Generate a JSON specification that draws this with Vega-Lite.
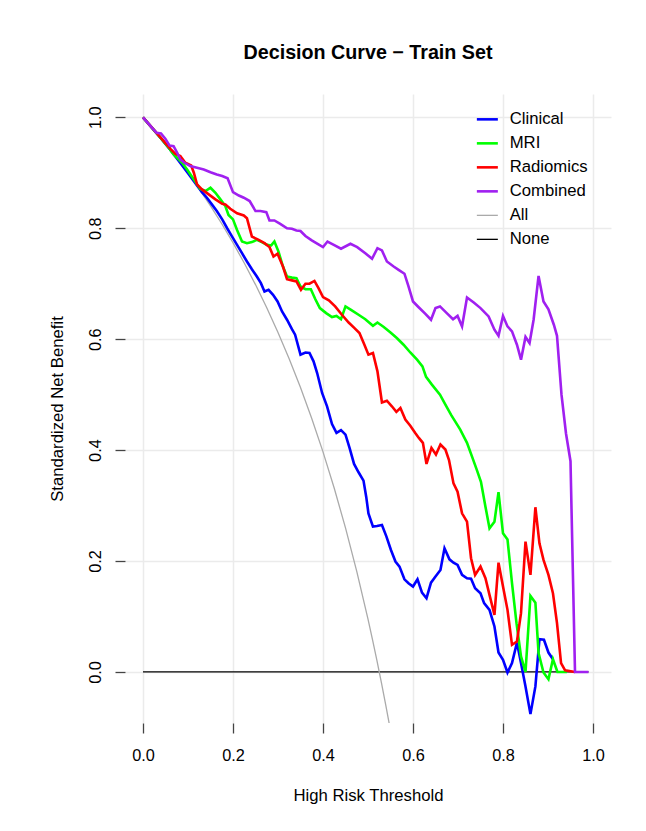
{
  "$schema": "https://vega.github.io/schema/vega-lite/v6.json",
  "autosize": "none",
  "width": 486,
  "height": 629,
  "padding": {"left": 125, "top": 94, "right": 35, "bottom": 108},
  "background": "white",
  "config": {"view": {"stroke": null}, "font": "Liberation Sans"},
  "title": {"text": "Decision Curve − Train Set", "fontSize": 19.7, "fontWeight": "bold", "font": "Liberation Sans", "color": "#000000", "anchor": "middle", "frame": "group", "baseline": "middle", "offset": 21},
  "datasets": {
    "curves": [
      {"model": "None", "threshold": 0, "net_benefit": 0},
      {"model": "None", "threshold": 0.99, "net_benefit": 0},
      {"model": "All", "threshold": 0, "net_benefit": 1},
      {"model": "All", "threshold": 0.025, "net_benefit": 0.9768},
      {"model": "All", "threshold": 0.05, "net_benefit": 0.9524},
      {"model": "All", "threshold": 0.075, "net_benefit": 0.9266},
      {"model": "All", "threshold": 0.1, "net_benefit": 0.8995},
      {"model": "All", "threshold": 0.125, "net_benefit": 0.8707},
      {"model": "All", "threshold": 0.15, "net_benefit": 0.8403},
      {"model": "All", "threshold": 0.175, "net_benefit": 0.8081},
      {"model": "All", "threshold": 0.2, "net_benefit": 0.7738},
      {"model": "All", "threshold": 0.225, "net_benefit": 0.7373},
      {"model": "All", "threshold": 0.25, "net_benefit": 0.6984},
      {"model": "All", "threshold": 0.275, "net_benefit": 0.6568},
      {"model": "All", "threshold": 0.3, "net_benefit": 0.6122},
      {"model": "All", "threshold": 0.325, "net_benefit": 0.5644},
      {"model": "All", "threshold": 0.35, "net_benefit": 0.5128},
      {"model": "All", "threshold": 0.375, "net_benefit": 0.4571},
      {"model": "All", "threshold": 0.4, "net_benefit": 0.3968},
      {"model": "All", "threshold": 0.425, "net_benefit": 0.3312},
      {"model": "All", "threshold": 0.45, "net_benefit": 0.2597},
      {"model": "All", "threshold": 0.475, "net_benefit": 0.1814},
      {"model": "All", "threshold": 0.5, "net_benefit": 0.0952},
      {"model": "All", "threshold": 0.51, "net_benefit": 0.0583},
      {"model": "All", "threshold": 0.52, "net_benefit": 0.0198},
      {"model": "All", "threshold": 0.53, "net_benefit": -0.0203},
      {"model": "All", "threshold": 0.54, "net_benefit": -0.0622},
      {"model": "All", "threshold": 0.547, "net_benefit": -0.0925},

      {"model": "Clinical", "threshold": 0, "net_benefit": 1},
      {"model": "Clinical", "threshold": 0.02, "net_benefit": 0.981},
      {"model": "Clinical", "threshold": 0.04, "net_benefit": 0.962},
      {"model": "Clinical", "threshold": 0.06, "net_benefit": 0.942},
      {"model": "Clinical", "threshold": 0.08, "net_benefit": 0.921},
      {"model": "Clinical", "threshold": 0.1, "net_benefit": 0.899},
      {"model": "Clinical", "threshold": 0.12, "net_benefit": 0.877},
      {"model": "Clinical", "threshold": 0.131, "net_benefit": 0.865},
      {"model": "Clinical", "threshold": 0.142, "net_benefit": 0.855},
      {"model": "Clinical", "threshold": 0.153, "net_benefit": 0.843},
      {"model": "Clinical", "threshold": 0.164, "net_benefit": 0.831},
      {"model": "Clinical", "threshold": 0.176, "net_benefit": 0.816},
      {"model": "Clinical", "threshold": 0.187, "net_benefit": 0.8},
      {"model": "Clinical", "threshold": 0.198, "net_benefit": 0.785},
      {"model": "Clinical", "threshold": 0.209, "net_benefit": 0.77},
      {"model": "Clinical", "threshold": 0.22, "net_benefit": 0.755},
      {"model": "Clinical", "threshold": 0.231, "net_benefit": 0.74},
      {"model": "Clinical", "threshold": 0.242, "net_benefit": 0.726},
      {"model": "Clinical", "threshold": 0.253, "net_benefit": 0.713},
      {"model": "Clinical", "threshold": 0.262, "net_benefit": 0.701},
      {"model": "Clinical", "threshold": 0.27, "net_benefit": 0.686},
      {"model": "Clinical", "threshold": 0.279, "net_benefit": 0.689},
      {"model": "Clinical", "threshold": 0.289, "net_benefit": 0.68},
      {"model": "Clinical", "threshold": 0.299, "net_benefit": 0.668},
      {"model": "Clinical", "threshold": 0.309, "net_benefit": 0.65},
      {"model": "Clinical", "threshold": 0.32, "net_benefit": 0.635},
      {"model": "Clinical", "threshold": 0.331, "net_benefit": 0.618},
      {"model": "Clinical", "threshold": 0.338, "net_benefit": 0.608},
      {"model": "Clinical", "threshold": 0.35, "net_benefit": 0.572},
      {"model": "Clinical", "threshold": 0.361, "net_benefit": 0.576},
      {"model": "Clinical", "threshold": 0.37, "net_benefit": 0.575},
      {"model": "Clinical", "threshold": 0.379, "net_benefit": 0.56},
      {"model": "Clinical", "threshold": 0.387, "net_benefit": 0.539},
      {"model": "Clinical", "threshold": 0.398, "net_benefit": 0.503},
      {"model": "Clinical", "threshold": 0.409, "net_benefit": 0.479},
      {"model": "Clinical", "threshold": 0.42, "net_benefit": 0.447},
      {"model": "Clinical", "threshold": 0.43, "net_benefit": 0.431},
      {"model": "Clinical", "threshold": 0.44, "net_benefit": 0.436},
      {"model": "Clinical", "threshold": 0.45, "net_benefit": 0.428},
      {"model": "Clinical", "threshold": 0.459, "net_benefit": 0.404},
      {"model": "Clinical", "threshold": 0.469, "net_benefit": 0.375},
      {"model": "Clinical", "threshold": 0.479, "net_benefit": 0.36},
      {"model": "Clinical", "threshold": 0.49, "net_benefit": 0.345},
      {"model": "Clinical", "threshold": 0.496, "net_benefit": 0.316},
      {"model": "Clinical", "threshold": 0.501, "net_benefit": 0.286},
      {"model": "Clinical", "threshold": 0.511, "net_benefit": 0.262},
      {"model": "Clinical", "threshold": 0.52, "net_benefit": 0.263},
      {"model": "Clinical", "threshold": 0.531, "net_benefit": 0.265},
      {"model": "Clinical", "threshold": 0.541, "net_benefit": 0.244},
      {"model": "Clinical", "threshold": 0.551, "net_benefit": 0.22},
      {"model": "Clinical", "threshold": 0.561, "net_benefit": 0.199},
      {"model": "Clinical", "threshold": 0.57, "net_benefit": 0.19},
      {"model": "Clinical", "threshold": 0.581, "net_benefit": 0.167},
      {"model": "Clinical", "threshold": 0.59, "net_benefit": 0.16},
      {"model": "Clinical", "threshold": 0.6, "net_benefit": 0.154},
      {"model": "Clinical", "threshold": 0.61, "net_benefit": 0.167},
      {"model": "Clinical", "threshold": 0.62, "net_benefit": 0.143},
      {"model": "Clinical", "threshold": 0.63, "net_benefit": 0.133},
      {"model": "Clinical", "threshold": 0.64, "net_benefit": 0.161},
      {"model": "Clinical", "threshold": 0.65, "net_benefit": 0.172},
      {"model": "Clinical", "threshold": 0.661, "net_benefit": 0.184},
      {"model": "Clinical", "threshold": 0.67, "net_benefit": 0.223},
      {"model": "Clinical", "threshold": 0.681, "net_benefit": 0.203},
      {"model": "Clinical", "threshold": 0.69, "net_benefit": 0.197},
      {"model": "Clinical", "threshold": 0.699, "net_benefit": 0.193},
      {"model": "Clinical", "threshold": 0.709, "net_benefit": 0.175},
      {"model": "Clinical", "threshold": 0.72, "net_benefit": 0.169},
      {"model": "Clinical", "threshold": 0.729, "net_benefit": 0.168},
      {"model": "Clinical", "threshold": 0.738, "net_benefit": 0.151},
      {"model": "Clinical", "threshold": 0.75, "net_benefit": 0.142},
      {"model": "Clinical", "threshold": 0.758, "net_benefit": 0.124},
      {"model": "Clinical", "threshold": 0.77, "net_benefit": 0.112},
      {"model": "Clinical", "threshold": 0.781, "net_benefit": 0.082},
      {"model": "Clinical", "threshold": 0.79, "net_benefit": 0.035},
      {"model": "Clinical", "threshold": 0.8, "net_benefit": 0.022},
      {"model": "Clinical", "threshold": 0.81, "net_benefit": -0.001},
      {"model": "Clinical", "threshold": 0.82, "net_benefit": 0.016},
      {"model": "Clinical", "threshold": 0.831, "net_benefit": 0.053},
      {"model": "Clinical", "threshold": 0.84, "net_benefit": 0.016},
      {"model": "Clinical", "threshold": 0.85, "net_benefit": -0.026},
      {"model": "Clinical", "threshold": 0.861, "net_benefit": -0.076},
      {"model": "Clinical", "threshold": 0.872, "net_benefit": -0.026},
      {"model": "Clinical", "threshold": 0.881, "net_benefit": 0.059},
      {"model": "Clinical", "threshold": 0.891, "net_benefit": 0.058},
      {"model": "Clinical", "threshold": 0.901, "net_benefit": 0.035},
      {"model": "Clinical", "threshold": 0.911, "net_benefit": 0.023},

      {"model": "MRI", "threshold": 0, "net_benefit": 1},
      {"model": "MRI", "threshold": 0.02, "net_benefit": 0.981},
      {"model": "MRI", "threshold": 0.04, "net_benefit": 0.962},
      {"model": "MRI", "threshold": 0.06, "net_benefit": 0.942},
      {"model": "MRI", "threshold": 0.068, "net_benefit": 0.933},
      {"model": "MRI", "threshold": 0.087, "net_benefit": 0.918},
      {"model": "MRI", "threshold": 0.098, "net_benefit": 0.906},
      {"model": "MRI", "threshold": 0.113, "net_benefit": 0.888},
      {"model": "MRI", "threshold": 0.127, "net_benefit": 0.871},
      {"model": "MRI", "threshold": 0.139, "net_benefit": 0.867},
      {"model": "MRI", "threshold": 0.15, "net_benefit": 0.873},
      {"model": "MRI", "threshold": 0.161, "net_benefit": 0.864},
      {"model": "MRI", "threshold": 0.172, "net_benefit": 0.852},
      {"model": "MRI", "threshold": 0.183, "net_benefit": 0.84},
      {"model": "MRI", "threshold": 0.19, "net_benefit": 0.824},
      {"model": "MRI", "threshold": 0.2, "net_benefit": 0.816},
      {"model": "MRI", "threshold": 0.209, "net_benefit": 0.797},
      {"model": "MRI", "threshold": 0.22, "net_benefit": 0.776},
      {"model": "MRI", "threshold": 0.231, "net_benefit": 0.773},
      {"model": "MRI", "threshold": 0.242, "net_benefit": 0.775},
      {"model": "MRI", "threshold": 0.253, "net_benefit": 0.779},
      {"model": "MRI", "threshold": 0.264, "net_benefit": 0.775},
      {"model": "MRI", "threshold": 0.276, "net_benefit": 0.77},
      {"model": "MRI", "threshold": 0.285, "net_benefit": 0.769},
      {"model": "MRI", "threshold": 0.292, "net_benefit": 0.776},
      {"model": "MRI", "threshold": 0.301, "net_benefit": 0.758},
      {"model": "MRI", "threshold": 0.311, "net_benefit": 0.731},
      {"model": "MRI", "threshold": 0.32, "net_benefit": 0.713},
      {"model": "MRI", "threshold": 0.331, "net_benefit": 0.711},
      {"model": "MRI", "threshold": 0.341, "net_benefit": 0.71},
      {"model": "MRI", "threshold": 0.35, "net_benefit": 0.695},
      {"model": "MRI", "threshold": 0.361, "net_benefit": 0.69},
      {"model": "MRI", "threshold": 0.373, "net_benefit": 0.69},
      {"model": "MRI", "threshold": 0.383, "net_benefit": 0.672},
      {"model": "MRI", "threshold": 0.393, "net_benefit": 0.656},
      {"model": "MRI", "threshold": 0.407, "net_benefit": 0.647},
      {"model": "MRI", "threshold": 0.42, "net_benefit": 0.64},
      {"model": "MRI", "threshold": 0.43, "net_benefit": 0.642},
      {"model": "MRI", "threshold": 0.44, "net_benefit": 0.636},
      {"model": "MRI", "threshold": 0.45, "net_benefit": 0.659},
      {"model": "MRI", "threshold": 0.464, "net_benefit": 0.652},
      {"model": "MRI", "threshold": 0.479, "net_benefit": 0.644},
      {"model": "MRI", "threshold": 0.494, "net_benefit": 0.636},
      {"model": "MRI", "threshold": 0.511, "net_benefit": 0.624},
      {"model": "MRI", "threshold": 0.521, "net_benefit": 0.63},
      {"model": "MRI", "threshold": 0.535, "net_benefit": 0.622},
      {"model": "MRI", "threshold": 0.55, "net_benefit": 0.612},
      {"model": "MRI", "threshold": 0.564, "net_benefit": 0.602},
      {"model": "MRI", "threshold": 0.579, "net_benefit": 0.59},
      {"model": "MRI", "threshold": 0.594, "net_benefit": 0.576},
      {"model": "MRI", "threshold": 0.609, "net_benefit": 0.563},
      {"model": "MRI", "threshold": 0.621, "net_benefit": 0.551},
      {"model": "MRI", "threshold": 0.629, "net_benefit": 0.532},
      {"model": "MRI", "threshold": 0.642, "net_benefit": 0.518},
      {"model": "MRI", "threshold": 0.66, "net_benefit": 0.5},
      {"model": "MRI", "threshold": 0.672, "net_benefit": 0.482},
      {"model": "MRI", "threshold": 0.685, "net_benefit": 0.463},
      {"model": "MRI", "threshold": 0.705, "net_benefit": 0.437},
      {"model": "MRI", "threshold": 0.72, "net_benefit": 0.413},
      {"model": "MRI", "threshold": 0.734, "net_benefit": 0.382},
      {"model": "MRI", "threshold": 0.742, "net_benefit": 0.364},
      {"model": "MRI", "threshold": 0.751, "net_benefit": 0.343},
      {"model": "MRI", "threshold": 0.761, "net_benefit": 0.298},
      {"model": "MRI", "threshold": 0.77, "net_benefit": 0.259},
      {"model": "MRI", "threshold": 0.781, "net_benefit": 0.271},
      {"model": "MRI", "threshold": 0.79, "net_benefit": 0.324},
      {"model": "MRI", "threshold": 0.8, "net_benefit": 0.25},
      {"model": "MRI", "threshold": 0.81, "net_benefit": 0.239},
      {"model": "MRI", "threshold": 0.82, "net_benefit": 0.16},
      {"model": "MRI", "threshold": 0.83, "net_benefit": 0.088},
      {"model": "MRI", "threshold": 0.84, "net_benefit": 0.028},
      {"model": "MRI", "threshold": 0.85, "net_benefit": 0},
      {"model": "MRI", "threshold": 0.861, "net_benefit": 0.137},
      {"model": "MRI", "threshold": 0.872, "net_benefit": 0.125},
      {"model": "MRI", "threshold": 0.879, "net_benefit": 0.034},
      {"model": "MRI", "threshold": 0.89, "net_benefit": -0.001},
      {"model": "MRI", "threshold": 0.901, "net_benefit": -0.013},
      {"model": "MRI", "threshold": 0.911, "net_benefit": 0.023},
      {"model": "MRI", "threshold": 0.921, "net_benefit": 0},
      {"model": "MRI", "threshold": 0.942, "net_benefit": 0},

      {"model": "Radiomics", "threshold": 0, "net_benefit": 1},
      {"model": "Radiomics", "threshold": 0.015, "net_benefit": 0.986},
      {"model": "Radiomics", "threshold": 0.031, "net_benefit": 0.971},
      {"model": "Radiomics", "threshold": 0.046, "net_benefit": 0.957},
      {"model": "Radiomics", "threshold": 0.061, "net_benefit": 0.943},
      {"model": "Radiomics", "threshold": 0.072, "net_benefit": 0.934},
      {"model": "Radiomics", "threshold": 0.083, "net_benefit": 0.93},
      {"model": "Radiomics", "threshold": 0.094, "net_benefit": 0.918},
      {"model": "Radiomics", "threshold": 0.107, "net_benefit": 0.913},
      {"model": "Radiomics", "threshold": 0.113, "net_benefit": 0.9},
      {"model": "Radiomics", "threshold": 0.12, "net_benefit": 0.879},
      {"model": "Radiomics", "threshold": 0.131, "net_benefit": 0.87},
      {"model": "Radiomics", "threshold": 0.146, "net_benefit": 0.861},
      {"model": "Radiomics", "threshold": 0.161, "net_benefit": 0.852},
      {"model": "Radiomics", "threshold": 0.176, "net_benefit": 0.844},
      {"model": "Radiomics", "threshold": 0.183, "net_benefit": 0.843},
      {"model": "Radiomics", "threshold": 0.194, "net_benefit": 0.835},
      {"model": "Radiomics", "threshold": 0.209, "net_benefit": 0.827},
      {"model": "Radiomics", "threshold": 0.224, "net_benefit": 0.823},
      {"model": "Radiomics", "threshold": 0.231, "net_benefit": 0.818},
      {"model": "Radiomics", "threshold": 0.242, "net_benefit": 0.785},
      {"model": "Radiomics", "threshold": 0.257, "net_benefit": 0.779},
      {"model": "Radiomics", "threshold": 0.27, "net_benefit": 0.773},
      {"model": "Radiomics", "threshold": 0.281, "net_benefit": 0.766},
      {"model": "Radiomics", "threshold": 0.29, "net_benefit": 0.749},
      {"model": "Radiomics", "threshold": 0.299, "net_benefit": 0.754},
      {"model": "Radiomics", "threshold": 0.311, "net_benefit": 0.731},
      {"model": "Radiomics", "threshold": 0.32, "net_benefit": 0.708},
      {"model": "Radiomics", "threshold": 0.331, "net_benefit": 0.706},
      {"model": "Radiomics", "threshold": 0.341, "net_benefit": 0.704},
      {"model": "Radiomics", "threshold": 0.351, "net_benefit": 0.689},
      {"model": "Radiomics", "threshold": 0.361, "net_benefit": 0.7},
      {"model": "Radiomics", "threshold": 0.37, "net_benefit": 0.7},
      {"model": "Radiomics", "threshold": 0.381, "net_benefit": 0.705},
      {"model": "Radiomics", "threshold": 0.39, "net_benefit": 0.692},
      {"model": "Radiomics", "threshold": 0.4, "net_benefit": 0.676},
      {"model": "Radiomics", "threshold": 0.413, "net_benefit": 0.67},
      {"model": "Radiomics", "threshold": 0.427, "net_benefit": 0.659},
      {"model": "Radiomics", "threshold": 0.442, "net_benefit": 0.644},
      {"model": "Radiomics", "threshold": 0.457, "net_benefit": 0.63},
      {"model": "Radiomics", "threshold": 0.47, "net_benefit": 0.62},
      {"model": "Radiomics", "threshold": 0.481, "net_benefit": 0.611},
      {"model": "Radiomics", "threshold": 0.492, "net_benefit": 0.59},
      {"model": "Radiomics", "threshold": 0.501, "net_benefit": 0.572},
      {"model": "Radiomics", "threshold": 0.511, "net_benefit": 0.575},
      {"model": "Radiomics", "threshold": 0.521, "net_benefit": 0.542},
      {"model": "Radiomics", "threshold": 0.531, "net_benefit": 0.486},
      {"model": "Radiomics", "threshold": 0.542, "net_benefit": 0.489},
      {"model": "Radiomics", "threshold": 0.553, "net_benefit": 0.479},
      {"model": "Radiomics", "threshold": 0.563, "net_benefit": 0.469},
      {"model": "Radiomics", "threshold": 0.572, "net_benefit": 0.476},
      {"model": "Radiomics", "threshold": 0.583, "net_benefit": 0.455},
      {"model": "Radiomics", "threshold": 0.594, "net_benefit": 0.444},
      {"model": "Radiomics", "threshold": 0.605, "net_benefit": 0.431},
      {"model": "Radiomics", "threshold": 0.613, "net_benefit": 0.422},
      {"model": "Radiomics", "threshold": 0.622, "net_benefit": 0.413},
      {"model": "Radiomics", "threshold": 0.63, "net_benefit": 0.375},
      {"model": "Radiomics", "threshold": 0.641, "net_benefit": 0.404},
      {"model": "Radiomics", "threshold": 0.651, "net_benefit": 0.392},
      {"model": "Radiomics", "threshold": 0.661, "net_benefit": 0.41},
      {"model": "Radiomics", "threshold": 0.672, "net_benefit": 0.401},
      {"model": "Radiomics", "threshold": 0.68, "net_benefit": 0.382},
      {"model": "Radiomics", "threshold": 0.69, "net_benefit": 0.34},
      {"model": "Radiomics", "threshold": 0.699, "net_benefit": 0.325},
      {"model": "Radiomics", "threshold": 0.709, "net_benefit": 0.286},
      {"model": "Radiomics", "threshold": 0.72, "net_benefit": 0.271},
      {"model": "Radiomics", "threshold": 0.729, "net_benefit": 0.205},
      {"model": "Radiomics", "threshold": 0.738, "net_benefit": 0.175},
      {"model": "Radiomics", "threshold": 0.75, "net_benefit": 0.19},
      {"model": "Radiomics", "threshold": 0.761, "net_benefit": 0.169},
      {"model": "Radiomics", "threshold": 0.77, "net_benefit": 0.139},
      {"model": "Radiomics", "threshold": 0.781, "net_benefit": 0.103},
      {"model": "Radiomics", "threshold": 0.79, "net_benefit": 0.197},
      {"model": "Radiomics", "threshold": 0.8, "net_benefit": 0.154},
      {"model": "Radiomics", "threshold": 0.81, "net_benefit": 0.112},
      {"model": "Radiomics", "threshold": 0.82, "net_benefit": 0.049},
      {"model": "Radiomics", "threshold": 0.831, "net_benefit": 0.055},
      {"model": "Radiomics", "threshold": 0.84, "net_benefit": 0.106},
      {"model": "Radiomics", "threshold": 0.85, "net_benefit": 0.235},
      {"model": "Radiomics", "threshold": 0.861, "net_benefit": 0.175},
      {"model": "Radiomics", "threshold": 0.872, "net_benefit": 0.297},
      {"model": "Radiomics", "threshold": 0.881, "net_benefit": 0.232},
      {"model": "Radiomics", "threshold": 0.89, "net_benefit": 0.202},
      {"model": "Radiomics", "threshold": 0.901, "net_benefit": 0.175},
      {"model": "Radiomics", "threshold": 0.911, "net_benefit": 0.142},
      {"model": "Radiomics", "threshold": 0.92, "net_benefit": 0.088},
      {"model": "Radiomics", "threshold": 0.929, "net_benefit": 0.016},
      {"model": "Radiomics", "threshold": 0.938, "net_benefit": 0.003},
      {"model": "Radiomics", "threshold": 0.96, "net_benefit": 0},

      {"model": "Combined", "threshold": 0, "net_benefit": 1},
      {"model": "Combined", "threshold": 0.015, "net_benefit": 0.986},
      {"model": "Combined", "threshold": 0.03, "net_benefit": 0.972},
      {"model": "Combined", "threshold": 0.04, "net_benefit": 0.971},
      {"model": "Combined", "threshold": 0.05, "net_benefit": 0.961},
      {"model": "Combined", "threshold": 0.059, "net_benefit": 0.949},
      {"model": "Combined", "threshold": 0.068, "net_benefit": 0.948},
      {"model": "Combined", "threshold": 0.076, "net_benefit": 0.936},
      {"model": "Combined", "threshold": 0.083, "net_benefit": 0.924},
      {"model": "Combined", "threshold": 0.092, "net_benefit": 0.918},
      {"model": "Combined", "threshold": 0.105, "net_benefit": 0.912},
      {"model": "Combined", "threshold": 0.12, "net_benefit": 0.909},
      {"model": "Combined", "threshold": 0.135, "net_benefit": 0.906},
      {"model": "Combined", "threshold": 0.15, "net_benefit": 0.901},
      {"model": "Combined", "threshold": 0.164, "net_benefit": 0.897},
      {"model": "Combined", "threshold": 0.176, "net_benefit": 0.894},
      {"model": "Combined", "threshold": 0.188, "net_benefit": 0.89},
      {"model": "Combined", "threshold": 0.2, "net_benefit": 0.865},
      {"model": "Combined", "threshold": 0.213, "net_benefit": 0.859},
      {"model": "Combined", "threshold": 0.224, "net_benefit": 0.855},
      {"model": "Combined", "threshold": 0.237, "net_benefit": 0.849},
      {"model": "Combined", "threshold": 0.25, "net_benefit": 0.831},
      {"model": "Combined", "threshold": 0.261, "net_benefit": 0.831},
      {"model": "Combined", "threshold": 0.274, "net_benefit": 0.829},
      {"model": "Combined", "threshold": 0.281, "net_benefit": 0.814},
      {"model": "Combined", "threshold": 0.292, "net_benefit": 0.814},
      {"model": "Combined", "threshold": 0.305, "net_benefit": 0.808},
      {"model": "Combined", "threshold": 0.32, "net_benefit": 0.8},
      {"model": "Combined", "threshold": 0.331, "net_benefit": 0.799},
      {"model": "Combined", "threshold": 0.341, "net_benefit": 0.796},
      {"model": "Combined", "threshold": 0.35, "net_benefit": 0.795},
      {"model": "Combined", "threshold": 0.361, "net_benefit": 0.786},
      {"model": "Combined", "threshold": 0.375, "net_benefit": 0.778},
      {"model": "Combined", "threshold": 0.4, "net_benefit": 0.766},
      {"model": "Combined", "threshold": 0.41, "net_benefit": 0.776},
      {"model": "Combined", "threshold": 0.424, "net_benefit": 0.77},
      {"model": "Combined", "threshold": 0.44, "net_benefit": 0.763},
      {"model": "Combined", "threshold": 0.461, "net_benefit": 0.772},
      {"model": "Combined", "threshold": 0.476, "net_benefit": 0.766},
      {"model": "Combined", "threshold": 0.494, "net_benefit": 0.755},
      {"model": "Combined", "threshold": 0.509, "net_benefit": 0.745},
      {"model": "Combined", "threshold": 0.521, "net_benefit": 0.764},
      {"model": "Combined", "threshold": 0.531, "net_benefit": 0.76},
      {"model": "Combined", "threshold": 0.542, "net_benefit": 0.74},
      {"model": "Combined", "threshold": 0.557, "net_benefit": 0.731},
      {"model": "Combined", "threshold": 0.568, "net_benefit": 0.725},
      {"model": "Combined", "threshold": 0.581, "net_benefit": 0.718},
      {"model": "Combined", "threshold": 0.59, "net_benefit": 0.695},
      {"model": "Combined", "threshold": 0.6, "net_benefit": 0.668},
      {"model": "Combined", "threshold": 0.612, "net_benefit": 0.658},
      {"model": "Combined", "threshold": 0.627, "net_benefit": 0.646},
      {"model": "Combined", "threshold": 0.64, "net_benefit": 0.635},
      {"model": "Combined", "threshold": 0.65, "net_benefit": 0.656},
      {"model": "Combined", "threshold": 0.66, "net_benefit": 0.659},
      {"model": "Combined", "threshold": 0.675, "net_benefit": 0.647},
      {"model": "Combined", "threshold": 0.689, "net_benefit": 0.636},
      {"model": "Combined", "threshold": 0.699, "net_benefit": 0.642},
      {"model": "Combined", "threshold": 0.709, "net_benefit": 0.623},
      {"model": "Combined", "threshold": 0.72, "net_benefit": 0.675},
      {"model": "Combined", "threshold": 0.735, "net_benefit": 0.666},
      {"model": "Combined", "threshold": 0.75, "net_benefit": 0.656},
      {"model": "Combined", "threshold": 0.768, "net_benefit": 0.641},
      {"model": "Combined", "threshold": 0.781, "net_benefit": 0.617},
      {"model": "Combined", "threshold": 0.79, "net_benefit": 0.606},
      {"model": "Combined", "threshold": 0.8, "net_benefit": 0.642},
      {"model": "Combined", "threshold": 0.81, "net_benefit": 0.623},
      {"model": "Combined", "threshold": 0.82, "net_benefit": 0.614},
      {"model": "Combined", "threshold": 0.831, "net_benefit": 0.59},
      {"model": "Combined", "threshold": 0.84, "net_benefit": 0.563},
      {"model": "Combined", "threshold": 0.85, "net_benefit": 0.604},
      {"model": "Combined", "threshold": 0.859, "net_benefit": 0.593},
      {"model": "Combined", "threshold": 0.868, "net_benefit": 0.635},
      {"model": "Combined", "threshold": 0.879, "net_benefit": 0.714},
      {"model": "Combined", "threshold": 0.89, "net_benefit": 0.668},
      {"model": "Combined", "threshold": 0.901, "net_benefit": 0.654},
      {"model": "Combined", "threshold": 0.913, "net_benefit": 0.626},
      {"model": "Combined", "threshold": 0.92, "net_benefit": 0.606},
      {"model": "Combined", "threshold": 0.93, "net_benefit": 0.5},
      {"model": "Combined", "threshold": 0.94, "net_benefit": 0.43},
      {"model": "Combined", "threshold": 0.95, "net_benefit": 0.38},
      {"model": "Combined", "threshold": 0.96, "net_benefit": 0},
      {"model": "Combined", "threshold": 0.99, "net_benefit": 0}
    ]
  },
  "data": {"name": "curves"},
  "encoding": {
    "x": {
      "field": "threshold", "type": "quantitative",
      "scale": {"domain": [-0.04, 1.04], "nice": false, "zero": false},
      "axis": {
        "values": [0, 0.2, 0.4, 0.6, 0.8, 1.0], "format": ".1f",
        "title": "High Risk Threshold", "titleFontSize": 16.7, "titleFontWeight": "normal", "titleFont": "Liberation Sans", "titleColor": "#000000",
        "titleX": 243, "titleY": 72, "titleBaseline": "middle", "titleAlign": "center",
        "domain": false, "ticks": true, "tickSize": 10, "tickColor": "#444444", "tickWidth": 1.3,
        "labelFontSize": 16.3, "labelFont": "Liberation Sans", "labelColor": "#000000", "labelPadding": 22, "labelBaseline": "middle", "labelAlign": "center", "labelFlush": false,
        "grid": true, "gridColor": "#EBEBEB", "gridWidth": 1.5
      }
    },
    "y": {
      "field": "net_benefit", "type": "quantitative",
      "scale": {"domain": [-0.092, 1.042], "nice": false, "zero": false},
      "axis": {
        "values": [0, 0.2, 0.4, 0.6, 0.8, 1.0], "format": ".1f",
        "title": "Standardized Net Benefit", "titleFontSize": 16.7, "titleFontWeight": "normal", "titleFont": "Liberation Sans", "titleColor": "#000000",
        "titleX": -68, "titleY": 314.5, "titleBaseline": "middle", "titleAlign": "center", "titleAngle": -90,
        "domain": false, "ticks": true, "tickSize": 10, "tickColor": "#444444", "tickWidth": 1.3,
        "labelFontSize": 16.3, "labelFont": "Liberation Sans", "labelColor": "#000000", "labelPadding": 20, "labelAngle": -90, "labelBaseline": "middle", "labelAlign": "center", "labelFlush": false,
        "grid": true, "gridColor": "#EBEBEB", "gridWidth": 1.5
      }
    }
  },
  "layer": [
    {
      "data": {"values": [{}]},
      "mark": {"type": "rule", "color": "#444444", "strokeWidth": 1.3},
      "encoding": {"x": {"datum": 0}, "x2": {"datum": 1}, "y": {"datum": -0.092}}
    },
    {
      "data": {"values": [{}]},
      "mark": {"type": "rule", "color": "#444444", "strokeWidth": 1.3},
      "encoding": {"x": {"datum": -0.04}, "y": {"datum": 0}, "y2": {"datum": 1}}
    },
    {
      "transform": [{"filter": {"field": "model", "oneOf": ["None", "All"]}}],
      "mark": {"type": "line", "strokeWidth": 1.3, "clip": true},
      "encoding": {
        "color": {"field": "model", "type": "nominal", "sort": null,
          "scale": {"domain": ["Clinical", "MRI", "Radiomics", "Combined", "All", "None"], "range": ["#0000FF", "#00FF00", "#FF0000", "#A020F0", "#AAAAAA", "#000000"]},
          "legend": {
            "title": null, "orient": "none", "legendX": 354, "legendY": 17, "padding": 0,
            "symbolType": "stroke", "symbolSize": 441, "symbolStrokeWidth": 2.6,
            "labelFontSize": 16.7, "labelFont": "Liberation Sans", "labelColor": "#000000", "labelOffset": 14, "rowPadding": 6,
            "labelExpr": "datum.value === 'All' ? '\u00a0\u00a0All' : (datum.value === 'None' ? '\u00a0None' : datum.label)",
            "encode": {"symbols": {"update": {"strokeWidth": {"signal": "datum.value === 'All' || datum.value === 'None' ? 1.3 : 2.6"}}}}
          }
        }
      }
    },
    {
      "transform": [{"filter": {"field": "model", "oneOf": ["Clinical", "MRI", "Radiomics", "Combined"]}}],
      "mark": {"type": "line", "strokeWidth": 2.6, "clip": true},
      "encoding": {
        "color": {"field": "model", "type": "nominal", "sort": null}
      }
    }
  ]
}
